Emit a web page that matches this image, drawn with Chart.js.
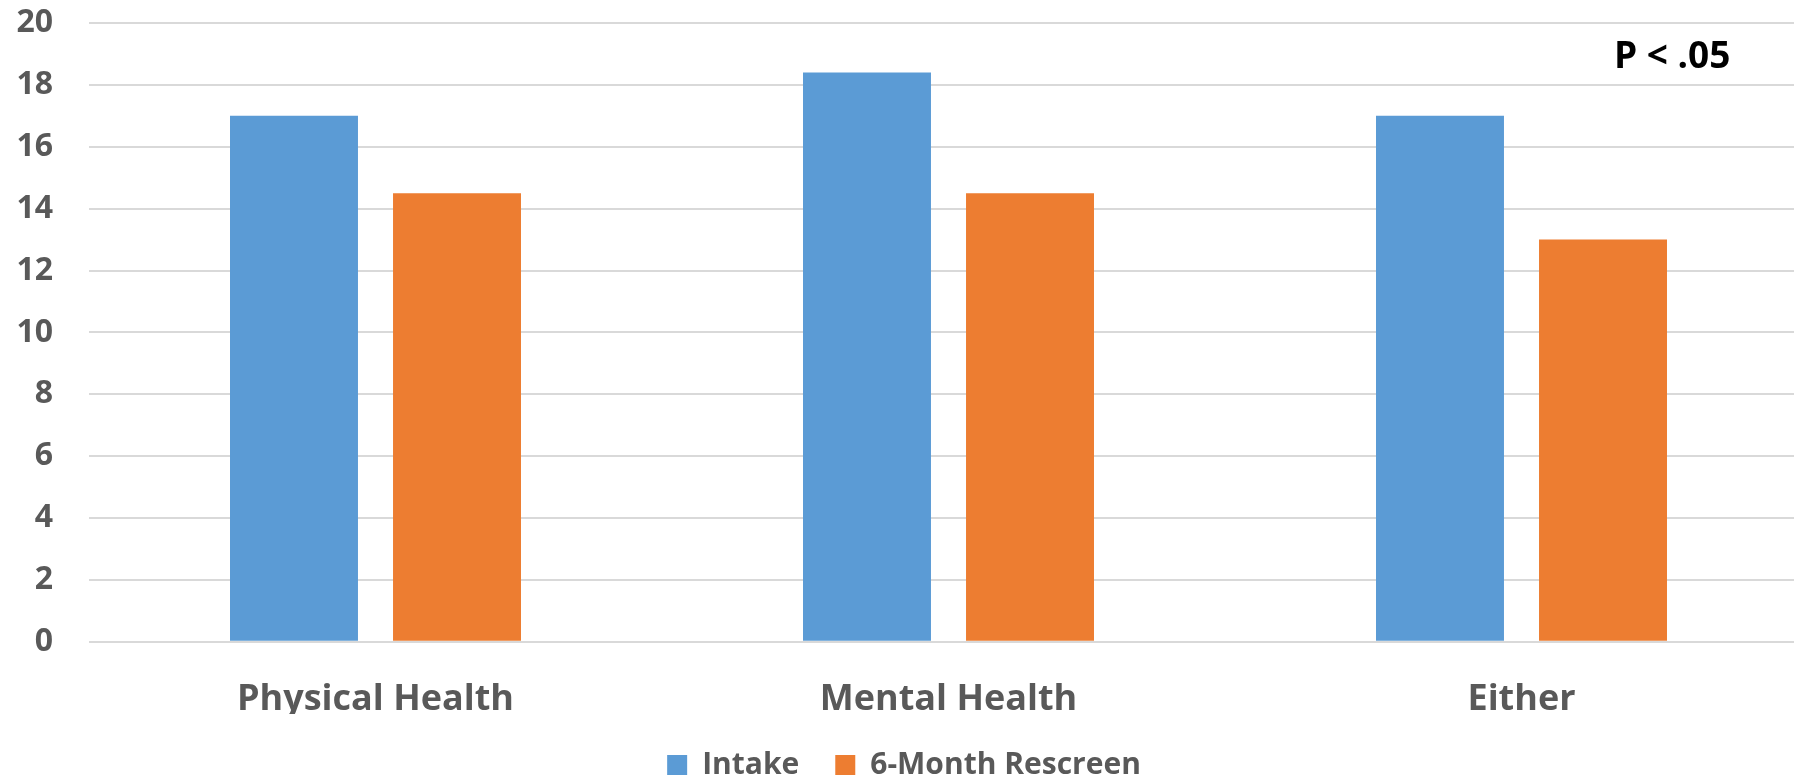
<!DOCTYPE html>
<html>
<head>
<meta charset="utf-8">
<script src="https://cdn.jsdelivr.net/npm/chart.js@4"></script>
<style>
  html, body { margin: 0; padding: 0; background: #fff; overflow: hidden; }
  #wrap { width: 1808px; height: 780px; }
</style>
</head>
<body>
<div id="wrap"><canvas id="grafico"></canvas></div>
<script>
const categorias = ["Physical Health", "Mental Health", "Either"];
const intake = [17, 18.4, 17];
const rescreen = [14.5, 14.5, 13];
const etiquetasY = [0, 2, 4, 6, 8, 10, 12, 14, 16, 18, 20];
const nota = "P < .05";

const gris = "#595959";
const fuente = "'Open Sans', 'Noto Sans', sans-serif";

// texto de significancia arriba a la derecha
const notaPlugin = {
  id: "nota",
  afterDraw(chart) {
    const x = chart.scales.x, y = chart.scales.y;
    const ancho = x.getPixelForValue(1) - x.getPixelForValue(0);
    const ctx = chart.ctx;
    ctx.save();
    ctx.font = "bold 37px " + fuente;
    ctx.fillStyle = "#000";
    ctx.textAlign = "center";
    ctx.textBaseline = "middle";
    ctx.fillText(nota, x.getPixelForValue(2) + ancho * 0.263, y.getPixelForValue(18.9));
    ctx.restore();
  }
};

var ctx = document.getElementById("grafico").getContext("2d");
var chart = new Chart(ctx, {
  type: "bar",
  data: {
    labels: categorias,
    datasets: [
      {
        label: "Intake",
        data: intake,
        backgroundColor: "#5b9bd5",
        categoryPercentage: 0.569,
        barPercentage: 0.785
      },
      {
        label: "6-Month Rescreen",
        data: rescreen,
        backgroundColor: "#ed7d31",
        categoryPercentage: 0.569,
        barPercentage: 0.785
      }
    ]
  },
  options: {
    responsive: true,
    maintainAspectRatio: false,
    animation: false,
    layout: { padding: { top: 23, left: 0, right: 0, bottom: -10 } },
    plugins: {
      tooltip: { enabled: false },
      legend: {
        position: "bottom",
        labels: {
          color: gris,
          font: { family: fuente, size: 30, weight: "bold" },
          boxWidth: 20,
          boxHeight: 20,
          padding: 36
        }
      }
    },
    scales: {
      x: {
        grid: { display: false },
        border: { display: false },
        afterFit(axis) { axis.height -= 35; },
        ticks: {
          color: gris,
          font: { family: fuente, size: 36, weight: "bold" },
          padding: 28
        }
      },
      y: {
        min: 0,
        max: 20,
        afterBuildTicks(axis) {
          axis.ticks = etiquetasY.map(v => ({ value: v }));
        },
        afterFit(axis) {
          axis.width = 89;
          axis.paddingTop = 0;
          axis.paddingBottom = 0;
        },
        grid: { color: "#d9d9d9", lineWidth: 2, drawTicks: false },
        border: { display: false },
        ticks: {
          color: gris,
          font: { family: fuente, size: 32, weight: "bold" },
          padding: 36
        }
      }
    }
  },
  plugins: [notaPlugin]
});
</script>
</body>
</html>
